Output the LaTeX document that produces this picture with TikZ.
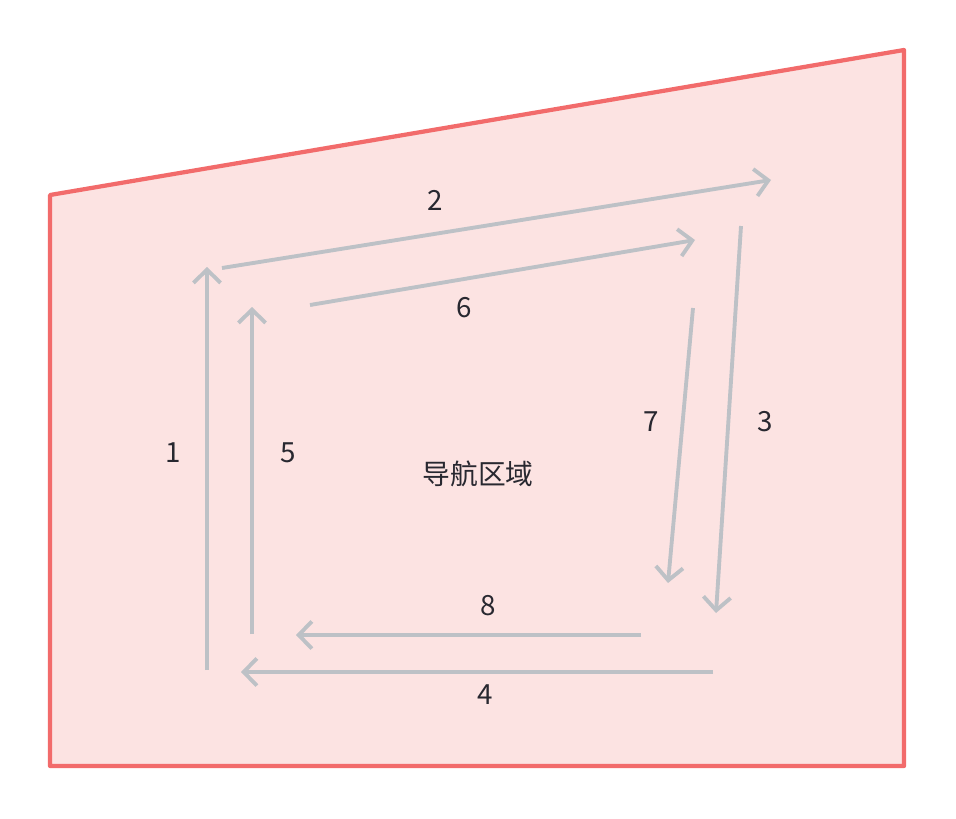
\documentclass[tikz,border=0pt]{standalone}
\usepackage{fontspec}
\setmainfont{Noto Sans CJK SC}
\definecolor{zonered}{RGB}{242, 107, 107}
\definecolor{zonefill}{RGB}{252, 227, 226}
\definecolor{pathgray}{RGB}{189, 193, 198}
\definecolor{labeltext}{RGB}{40, 40, 48}
\usetikzlibrary{arrows.meta, positioning}

\begin{document}
\begin{tikzpicture}[x=0.02cm, y=-0.02cm,
    zone/.style={draw=zonered, fill=zonefill, line width=2.4pt, line join=round},
    sweep/.style={draw=pathgray, line width=2.2pt, -{Straight Barb[length=7.5pt, width=15.5pt, line width=2.2pt]}},
    steplabel/.style={font=\fontsize{15.8pt}{19pt}\selectfont, text=labeltext, inner sep=1pt}]
  \useasboundingbox (0,0) rectangle (956,818);

  % Navigation zone
  \draw[zone] (50,195) -- (904,50) -- (904,766) -- (50,766) -- cycle;
  \node[steplabel] (zone) at (478,474) {导航区域};

  % Outer loop
  \coordinate (a1) at (207,670);
  \coordinate (b1) at (207,267);
  \coordinate (a2) at (222,268);
  \coordinate (b2) at (771,180);
  \coordinate (a3) at (741,226);
  \coordinate (b3) at (716,613);
  \coordinate (a4) at (713,672);
  \coordinate (b4) at (241,672);

  % Inner loop
  \coordinate (a5) at (252,634);
  \coordinate (b5) at (252,307);
  \coordinate (a6) at (310,305);
  \coordinate (b6) at (695,240);
  \coordinate (a7) at (693,308);
  \coordinate (b7) at (668,583);
  \coordinate (a8) at (641,635);
  \coordinate (b8) at (296,635);

  \foreach \i in {1,...,8}
    \draw[sweep] (a\i) -- (b\i);

  % Step numbers
  \node[steplabel] (n1) at (173,453) {1};
  \node[steplabel] (n2) at (435,200) {2};
  \node[steplabel] (n3) at (765,422) {3};
  \node[steplabel] (n4) at (485,695) {4};
  \node[steplabel] (n5) at (288,453) {5};
  \node[steplabel] (n6) at (464,308) {6};
  \node[steplabel] (n7) at (651,422) {7};
  \node[steplabel] (n8) at (488,606) {8};
\end{tikzpicture}
\end{document}
